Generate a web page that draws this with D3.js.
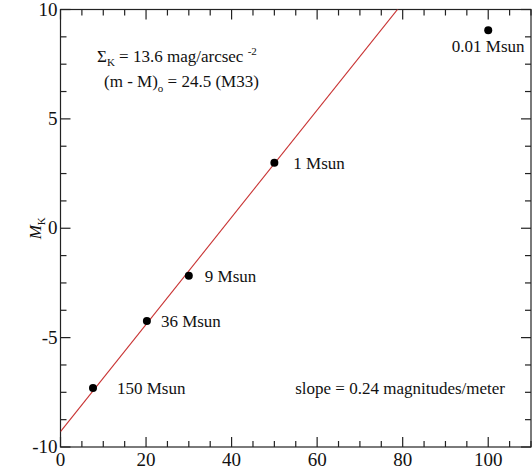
<!DOCTYPE html>
<html><head><meta charset="utf-8">
<script src="https://cdn.jsdelivr.net/npm/d3@7"></script>
<style>
body{margin:0;background:#fff}
svg{display:block}
svg text, svg tspan{font-family:'Liberation Serif','Tinos','FreeSerif',serif !important}
</style>
</head><body>
<svg id="c" width="532" height="470" style="font-family:'Liberation Serif','Tinos',serif"></svg>
<script>
const xValues = [7.6, 20.2, 30.0, 50.0, 100.0];
const yValues = [-7.3, -4.24, -2.17, 3.0, 9.05];
const massLabels = ["150 Msun", "36 Msun", "9 Msun", "1 Msun", "0.01 Msun"];
const xTicks = [0, 20, 40, 60, 80, 100];
const yTicks = [-10, -5, 0, 5, 10];
const fitIntercept = -9.3;
const fitSlope = 0.245;

const svg = d3.select("#c");
const L = 60.5, R = 531, T = 9.5, B = 447;
const x = d3.scaleLinear().domain([0, 110]).range([L, R]);
const y = d3.scaleLinear().domain([-10, 10]).range([B, T]);

function txt(sel) { return sel.style("font-family", d => "'Liberation Serif'").attr("fill", "#111"); }

// frame
svg.append("rect").attr("x", L).attr("y", T).attr("width", R - L).attr("height", B - T)
  .attr("fill", "none").attr("stroke", "#222").attr("stroke-width", 1.2);

const xMinor = d3.range(0, 111, 5).filter(v => v % 20 !== 0);
const yMinor = d3.range(-10, 10.01, 1.25).filter(v => Math.abs(v % 5) > 1e-6);

function ticks(axis, major, minor, maj, min) {
  const g = svg.append("g").attr("stroke", "#222").attr("stroke-width", 1.2);
  const all = major.map(v => [v, maj]).concat(minor.map(v => [v, min]));
  all.forEach(([v, len]) => {
    if (axis === "x") {
      const px = x(v);
      g.append("line").attr("x1", px).attr("x2", px).attr("y1", B).attr("y2", B - len);
      g.append("line").attr("x1", px).attr("x2", px).attr("y1", T).attr("y2", T + len);
    } else {
      const py = y(v);
      g.append("line").attr("y1", py).attr("y2", py).attr("x1", L).attr("x2", L + len);
      g.append("line").attr("y1", py).attr("y2", py).attr("x1", R).attr("x2", R - len);
    }
  });
}
ticks("x", xTicks, xMinor, 10, 6);
ticks("y", yTicks, yMinor, 10, 6);

// tick labels
txt(svg.append("g").selectAll("text").data(xTicks).join("text"))
  .attr("x", d => x(d)).attr("y", B + 19).attr("text-anchor", "middle")
  .attr("font-size", 19).text(d => d);
txt(svg.append("g").selectAll("text").data(yTicks).join("text"))
  .attr("x", L - 3).attr("y", d => y(d) + 6).attr("text-anchor", "end")
  .attr("font-size", 19).text(d => d);

// axis label
const yl = txt(svg.append("text")).attr("transform", `translate(41,${y(0)}) rotate(-90)`)
  .attr("text-anchor", "middle").attr("font-size", 17);
yl.append("tspan").attr("font-style", "italic").text("M");
yl.append("tspan").attr("font-size", 11).attr("dy", 4).text("K");

// fit line
svg.append("defs").append("clipPath").attr("id", "clip").append("rect")
  .attr("x", L).attr("y", T).attr("width", R - L).attr("height", B - T);
const line = d3.line().x(d => x(d)).y(d => y(fitIntercept + fitSlope * d));
svg.append("path").datum([0, 110]).attr("d", line).attr("clip-path", "url(#clip)")
  .attr("fill", "none").attr("stroke", "#c83232").attr("stroke-width", 1.1);

// points
const pts = xValues.map((v, i) => ({x: v, y: yValues[i], label: massLabels[i]}));
svg.append("g").selectAll("circle").data(pts).join("circle")
  .attr("cx", d => x(d.x)).attr("cy", d => y(d.y)).attr("r", 4).attr("fill", "#000");

// point labels
const offs = [[24, 6, "start"], [14, 6, "start"], [16, 6, "start"], [19, 6, "start"], [0, 22, "middle"]];
txt(svg.append("g").selectAll("text").data(pts).join("text"))
  .attr("x", (d, i) => x(d.x) + offs[i][0]).attr("y", (d, i) => y(d.y) + offs[i][1])
  .attr("text-anchor", (d, i) => offs[i][2]).attr("font-size", 17).text(d => d.label);

// annotations
const a1 = txt(svg.append("text")).attr("x", 97).attr("y", 62).attr("font-size", 17);
a1.append("tspan").text("Σ");
a1.append("tspan").attr("font-size", 11).attr("dy", 4).text("K");
a1.append("tspan").attr("dy", -4).text(" = 13.6 mag/arcsec ");
a1.append("tspan").attr("font-size", 11).attr("dy", -7).text("-2");

const a2 = txt(svg.append("text")).attr("x", 104).attr("y", 87).attr("font-size", 17);
a2.append("tspan").text("(m - M)");
a2.append("tspan").attr("font-size", 11).attr("dy", 5).text("o");
a2.append("tspan").attr("dy", -5).text(" = 24.5 (M33)");

txt(svg.append("text")).attr("x", 505).attr("y", y(-7.3) + 6).attr("text-anchor", "end")
  .attr("font-size", 17).text("slope = 0.24 magnitudes/meter");
</script>
</body></html>
